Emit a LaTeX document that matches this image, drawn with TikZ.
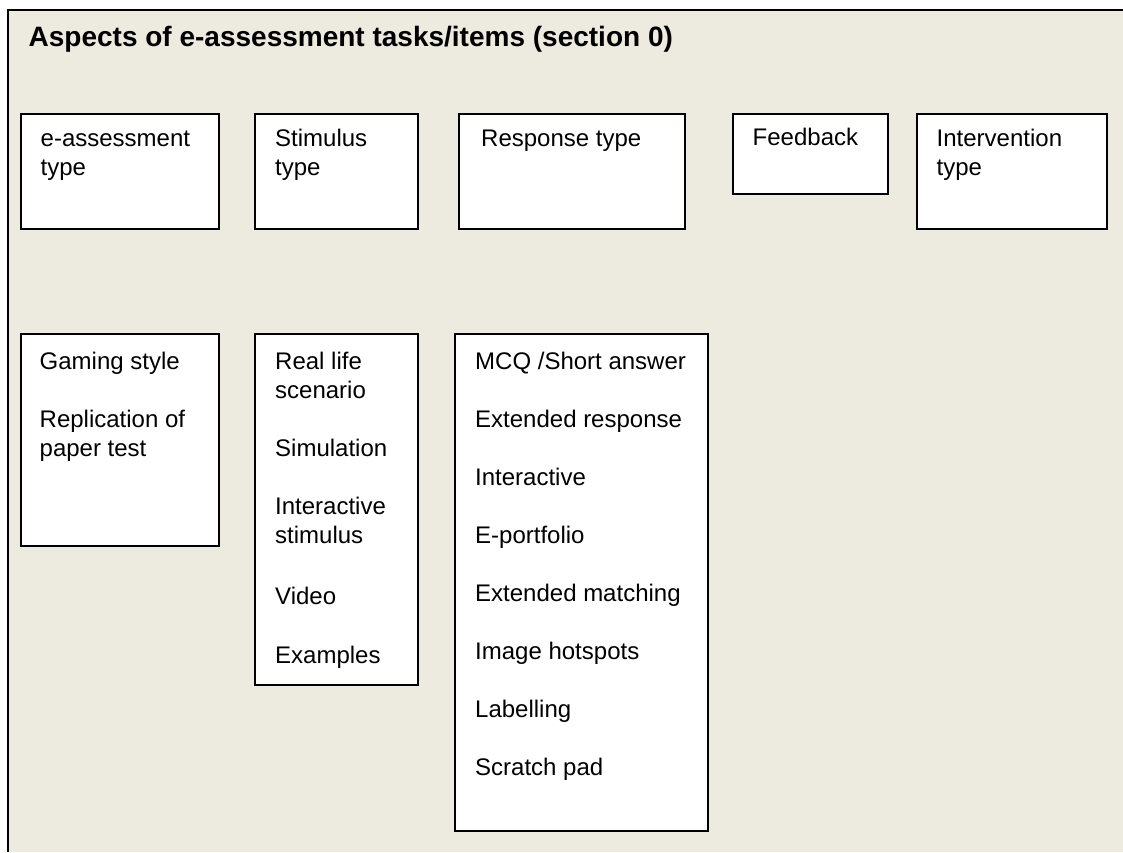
\documentclass[tikz,border=0pt]{standalone}
\usepackage{fontspec}
\setmainfont{Liberation Sans}
\definecolor{panel}{RGB}{237,234,224}
\tikzset{
  box/.style={draw=black, line width=2pt, fill=white, inner sep=0pt, anchor=north west},
  txt/.style={inner sep=0pt, anchor=base west, font=\fontsize{24}{29}\selectfont},
  ttl/.style={inner sep=0pt, anchor=base west, font=\fontsize{28}{34}\selectfont\bfseries},
  frame/.style={line width=2pt}
}
\begin{document}
\begin{tikzpicture}[x=1pt,y=-1pt]
\useasboundingbox (0,0) rectangle (1123,852);
% panel background and its open frame
\fill[panel] (7.5,10) rectangle (1123,852);
\draw[frame] (7.5,852) -- (7.5,10) -- (1123,10);
\node[ttl] (title) at (28.5,46) {Aspects of e-assessment tasks/items (section 0)};

% headings row
\node[box, minimum width=198, minimum height=115] (etype) at (20,113) {};
\node[box, minimum width=163, minimum height=115] (stype) at (254,113) {};
\node[box, minimum width=226, minimum height=115] (rtype) at (458,113) {};
\node[box, minimum width=155, minimum height=80]  (fb)    at (731.5,113) {};
\node[box, minimum width=190, minimum height=115] (itype) at (916,113) {};

\node[txt] (etype1) at (40.5,146) {e-assessment};
\node[txt] (etype2) at (40.5,175.5) {type};
\node[txt] (stype1) at (275,146) {Stimulus};
\node[txt] (stype2) at (275,175.5) {type};
\node[txt] (rtype1) at (481,146) {Response type};
\node[txt] (fb1)    at (752.5,145) {Feedback};
\node[txt] (itype1) at (936.5,146) {Intervention};
\node[txt] (itype2) at (936.5,175.5) {type};

% lists row
\node[box, minimum width=198, minimum height=212] (elist) at (20,333) {};
\node[box, minimum width=163, minimum height=351] (slist) at (254,333) {};
\node[box, minimum width=253, minimum height=497] (rlist) at (454,333) {};

\node[txt] (e1) at (39.5,369) {Gaming style};
\node[txt] (e2) at (39.5,427) {Replication of};
\node[txt] (e3) at (39.5,456.5) {paper test};

\node[txt] (s1) at (275,369) {Real life};
\node[txt] (s2) at (275,398.5) {scenario};
\node[txt] (s3) at (275,456) {Simulation};
\node[txt] (s4) at (275,514) {Interactive};
\node[txt] (s5) at (275,543.5) {stimulus};
\node[txt] (s6) at (275,604) {Video};
\node[txt] (s7) at (275,663) {Examples};

\node[txt] (r1) at (475,369) {MCQ /Short answer};
\node[txt] (r2) at (475,427) {Extended response};
\node[txt] (r3) at (475,485) {Interactive};
\node[txt] (r4) at (475,543) {E-portfolio};
\node[txt] (r5) at (475,601) {Extended matching};
\node[txt] (r6) at (475,659) {Image hotspots};
\node[txt] (r7) at (475,717) {Labelling};
\node[txt] (r8) at (475,775) {Scratch pad};
\end{tikzpicture}
\end{document}
